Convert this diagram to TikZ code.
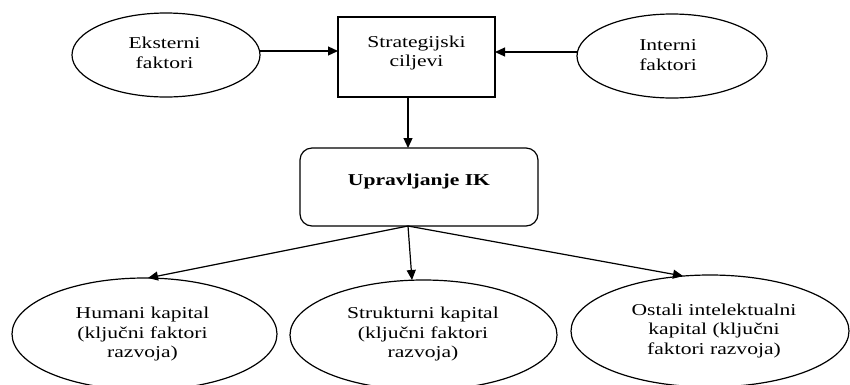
\documentclass[tikz,border=0pt]{standalone}
\usepackage{fontspec}
\setmainfont{Liberation Serif}[FakeStretch=1.3]
\usetikzlibrary{arrows.meta,shapes.geometric}
\begin{document}
\begin{tikzpicture}[x=1pt,y=-1pt,
  lw/.style={line width=1.2pt},
  ell/.style={ellipse,draw,lw,outer sep=0pt,inner sep=0pt},
  rect/.style={rectangle,draw,lw,outer sep=0pt,inner sep=0pt},
  txt/.style={align=center,inner sep=0pt,font=\fontsize{16.6}{19.5}\selectfont},
  arr/.style={lw,-{Triangle[length=10pt,width=9pt]}}]
\useasboundingbox (0,0) rectangle (850,384);
\clip (0,0) rectangle (850,384);
% top row
\node[ell,minimum width=188pt,minimum height=84pt] (ek) at (166,55) {};
\node[txt] (ekt) at (164.5,53) {Eksterni\\faktori};
\node[rect,minimum width=157pt,minimum height=80pt] (sc) at (416.5,57) {};
\node[txt] (sct) at (416.5,53) {Strategijski\\ciljevi};
\node[ell,minimum width=190pt,minimum height=84pt] (in) at (672,56) {};
\node[txt] (int) at (668,55) {Interni\\faktori};
% middle
\node[rect,rounded corners=12pt,minimum width=238pt,minimum height=78pt] (up) at (419,187) {};
\node[txt,font=\fontsize{16.6}{19.5}\selectfont\bfseries] (upt) at (419,181) {Upravljanje IK};
% bottom row
\node[ell,minimum width=265pt,minimum height=112pt] (hu) at (144.5,334) {};
\node[txt] (hut) at (142.5,334) {Humani kapital\\(ključni faktori\\razvoja)};
\node[ell,minimum width=267pt,minimum height=110pt] (st) at (423.5,335) {};
\node[txt] (stt) at (423,334) {Strukturni kapital\\(ključni faktori\\razvoja)};
\node[ell,minimum width=278pt,minimum height=112pt] (os) at (710,331) {};
\node[txt] (ost) at (714,330.5) {Ostali intelektualni\\kapital (ključni\\faktori razvoja)};
% connectors
\draw[arr] ([yshift=4pt]ek.east) -- ([yshift=4pt]ek.east -| sc.west);
\draw[arr] ([yshift=4pt]in.west) -- ([yshift=4pt]in.west -| sc.east);
\draw[arr] ([xshift=-8.5pt]sc.south) -- ([xshift=-8.5pt]sc.south |- up.north);
\coordinate (src) at ([xshift=-11pt]up.south);
\draw[arr] (src) -- ([xshift=3.5pt]hu.north);
\draw[arr] (src) -- ([xshift=-11.5pt]st.north);
\draw[arr] (src) -- ([xshift=-27pt,yshift=-1pt]os.north);
\end{tikzpicture}
\end{document}
